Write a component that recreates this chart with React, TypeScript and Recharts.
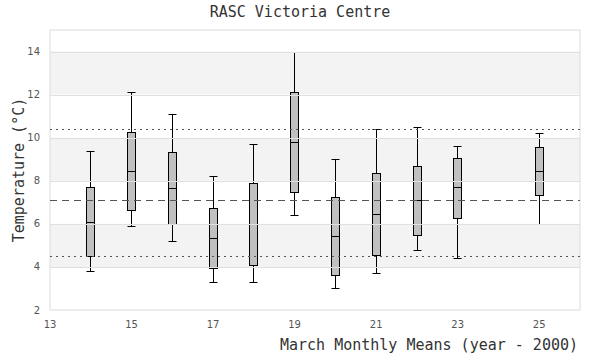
import { ComposedChart, Bar, XAxis, YAxis, ReferenceArea, ReferenceLine } from 'recharts';

// March monthly mean temperatures, summarized per year (year - 2000)
const years = [14, 15, 16, 17, 18, 19, 20, 21, 22, 23, 25];
const lows = [3.81, 5.91, 5.21, 3.3, 3.3, 6.42, 3.02, 3.72, 4.79, 4.42, 6.0];
const q1s = [4.51, 6.65, 5.97, 3.95, 4.09, 7.49, 3.63, 4.56, 5.49, 6.28, 7.35];
const medians = [6.09, 8.47, 7.67, 5.35, 6.01, 9.81, 5.44, 6.48, 7.12, 7.69, 8.45];
const q3s = [7.72, 10.28, 9.35, 6.74, 7.91, 12.14, 7.26, 8.37, 8.7, 9.07, 9.56];
const highs = [9.4, 12.14, 11.12, 8.23, 9.72, 14.0, 9.02, 10.42, 10.51, 9.63, 10.21];

// overall mean and +/- spread
const meanLevel = 7.12;
const spreadLevels = [10.42, 4.51];

const xTicks = [13, 15, 17, 19, 21, 23, 25];
const yTicks = [2, 4, 6, 8, 10, 12, 14];
const shadedBands = [
  [4, 6],
  [8, 10],
  [12, 14],
];

const data = years.map((year, i) => ({
  year,
  base: lows[i],
  lowWhisker: q1s[i] - lows[i],
  lowBox: medians[i] - q1s[i],
  highBox: q3s[i] - medians[i],
  highWhisker: highs[i] - q3s[i],
}));

const snap = (v: number) => Math.round(v) + 0.5;

function Empty() {
  return <g />;
}

function BoxPart(props: any) {
  const { x, y, width, height } = props;
  const left = snap(x);
  const w = Math.round(width);
  const top = snap(y);
  const bottom = snap(y + height);
  return <rect x={left} y={top} width={w} height={bottom - top} fill="#c0c0c0" stroke="#000" strokeWidth={1} />;
}

function makeWhisker(capAtTop: boolean) {
  return (props: any) => {
    const { x, y, width, height } = props;
    const left = snap(x);
    const w = Math.round(width);
    const cx = left + Math.round(w / 2);
    const top = snap(y);
    const bottom = snap(y + height);
    const capY = capAtTop ? top : bottom;
    return (
      <g>
        <line x1={cx} x2={cx} y1={top} y2={bottom} stroke="#000" strokeWidth={1} />
        <line x1={left} x2={left + w} y1={capY} y2={capY} stroke="#000" strokeWidth={1} />
      </g>
    );
  };
}

const LowWhisker = makeWhisker(false);
const HighWhisker = makeWhisker(true);

// keep horizontal lines on whole pixels so they stay 1px sharp
function CrispLine(props: any) {
  const { x1, x2, y1, y2, stroke, strokeDasharray } = props;
  return (
    <line
      x1={x1}
      x2={x2}
      y1={snap(y1)}
      y2={snap(y2)}
      stroke={stroke}
      strokeDasharray={strokeDasharray}
      strokeWidth={1}
      fill="none"
    />
  );
}

const tickStyle = { fill: '#555', fontSize: 10, fontFamily: 'DejaVu Sans' };
const labelFont = 'DejaVu Sans Mono';

export default function App() {
  return (
    <div style={{ position: 'absolute', left: 0, top: 0, width: 600, height: 360, background: '#fff' }}>
      <div
        style={{
          position: 'absolute',
          left: 0,
          top: 3,
          width: 600,
          textAlign: 'center',
          fontFamily: labelFont,
          fontSize: 15,
          color: '#333',
        }}
      >
        RASC Victoria Centre
      </div>
      <ComposedChart width={600} height={360} data={data} margin={{ top: 30, right: 20, bottom: 0, left: 0 }}>
        {shadedBands.map(([a, b]) => (
          <ReferenceArea key={a} y1={a} y2={b} x1={13} x2={26} fill="#f3f3f3" fillOpacity={1} stroke="none" />
        ))}
        {yTicks.slice(1).map((t) => (
          <ReferenceLine key={t} y={t} stroke="#e0e0e0" shape={CrispLine} />
        ))}
        <ReferenceArea x1={13} x2={26} y1={2} y2={15} fill="none" fillOpacity={0} stroke="#dcdcdc" strokeWidth={1} />
        {spreadLevels.map((v) => (
          <ReferenceLine key={v} y={v} stroke="#555" strokeDasharray="2 4" shape={CrispLine} />
        ))}
        <ReferenceLine y={meanLevel} stroke="#555" strokeDasharray="7 5" shape={CrispLine} />
        <XAxis
          type="number"
          dataKey="year"
          domain={[13, 26]}
          ticks={xTicks}
          interval={0}
          allowDataOverflow
          axisLine={false}
          tickLine={false}
          tickSize={0}
          tickMargin={11}
          height={50}
          tick={tickStyle}
          label={{
            content: ({ viewBox }: any) => (
              <text
                x={viewBox.x + viewBox.width - 2}
                y={viewBox.y + 40}
                textAnchor="end"
                fontFamily={labelFont}
                fontSize={15}
                fill="#333"
              >
                March Monthly Means (year - 2000)
              </text>
            ),
          }}
        />
        <YAxis
          type="number"
          domain={[2, 15]}
          ticks={yTicks}
          interval={0}
          allowDataOverflow
          axisLine={false}
          tickLine={false}
          tickSize={0}
          tickMargin={10}
          width={50}
          tick={tickStyle}
          label={{
            content: ({ viewBox }: any) => {
              const cx = 19;
              const cy = viewBox.y + viewBox.height / 2;
              return (
                <text
                  x={cx}
                  y={cy}
                  transform={`rotate(-90, ${cx}, ${cy})`}
                  textAnchor="middle"
                  dominantBaseline="central"
                  fontFamily={labelFont}
                  fontSize={15}
                  fill="#333"
                >
                  Temperature (°C)
                </text>
              );
            },
          }}
        />
        <Bar dataKey="base" stackId="box" barSize={8} shape={Empty} isAnimationActive={false} />
        <Bar dataKey="lowWhisker" stackId="box" barSize={8} shape={LowWhisker} isAnimationActive={false} />
        <Bar dataKey="lowBox" stackId="box" barSize={8} shape={BoxPart} isAnimationActive={false} />
        <Bar dataKey="highBox" stackId="box" barSize={8} shape={BoxPart} isAnimationActive={false} />
        <Bar dataKey="highWhisker" stackId="box" barSize={8} shape={HighWhisker} isAnimationActive={false} />
      </ComposedChart>
    </div>
  );
}
